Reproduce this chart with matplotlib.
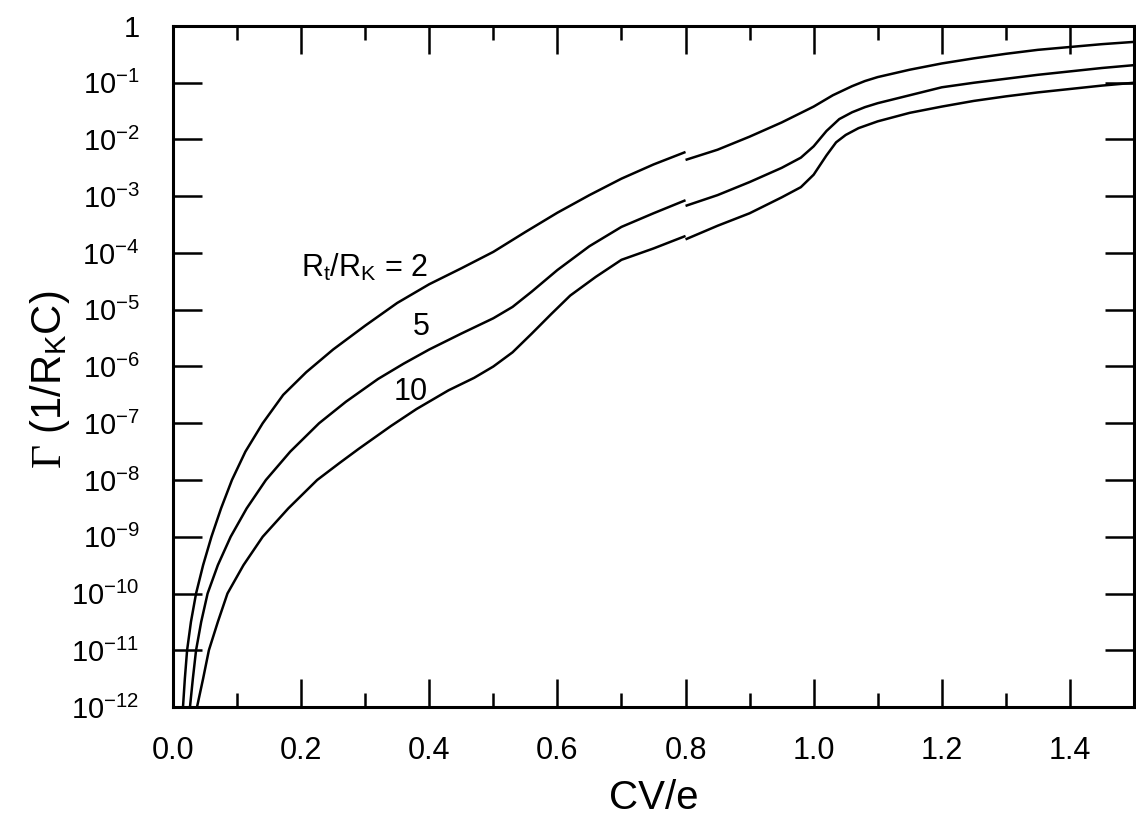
import numpy as np
import matplotlib
matplotlib.use("Agg")
import matplotlib.pyplot as plt
from matplotlib.ticker import FixedLocator, MultipleLocator, FixedFormatter

plt.rcParams['font.family'] = ['Liberation Sans', 'DejaVu Sans']
plt.rcParams['mathtext.fontset'] = 'custom'
plt.rcParams['mathtext.rm'] = 'Liberation Serif'
plt.rcParams['mathtext.it'] = 'Liberation Serif:italic'

# values: CV/e and log10(Gamma) for each R_t/R_K
# each curve has a small break at CV/e = 0.8, so two pieces per curve
x2_a = [0.0156, 0.0185, 0.022, 0.028, 0.036, 0.047, 0.060, 0.075, 0.092, 0.113, 0.140,
        0.172, 0.208, 0.25, 0.30, 0.35, 0.40, 0.45, 0.50, 0.55, 0.60, 0.65, 0.70,
        0.75, 0.80]
lg2_a = [-12, -11.5, -11, -10.5, -10, -9.5, -9, -8.5, -8, -7.5, -7,
         -6.5, -6.1, -5.7, -5.28, -4.88, -4.55, -4.27, -3.98, -3.63, -3.29, -2.98, -2.69,
         -2.44, -2.22]
x2_b = [0.80, 0.85, 0.90, 0.95, 1.00, 1.03, 1.06, 1.08, 1.10, 1.15, 1.20, 1.25, 1.30,
        1.35, 1.40, 1.45, 1.50]
lg2_b = [-2.36, -2.18, -1.95, -1.70, -1.42, -1.22, -1.06, -0.97, -0.90, -0.77, -0.66,
         -0.57, -0.49, -0.42, -0.37, -0.32, -0.28]

x5_a = [0.0265, 0.031, 0.036, 0.044, 0.054, 0.070, 0.090, 0.115, 0.145, 0.183, 0.228,
        0.27, 0.32, 0.36, 0.40, 0.45, 0.50, 0.53, 0.56, 0.60, 0.65, 0.70, 0.75, 0.80]
lg5_a = [-12, -11.5, -11, -10.5, -10, -9.5, -9, -8.5, -8, -7.5, -7,
         -6.62, -6.22, -5.95, -5.70, -5.42, -5.15, -4.95, -4.68, -4.30, -3.88, -3.54,
         -3.30, -3.07]
x5_b = [0.80, 0.85, 0.90, 0.95, 0.98, 1.00, 1.02, 1.04, 1.06, 1.08, 1.10, 1.15, 1.20,
        1.25, 1.30, 1.35, 1.40, 1.45, 1.50]
lg5_b = [-3.17, -2.98, -2.75, -2.50, -2.32, -2.12, -1.85, -1.64, -1.52, -1.43, -1.36,
         -1.22, -1.08, -1.00, -0.93, -0.86, -0.80, -0.74, -0.69]

x10_a = [0.0375, 0.047, 0.056, 0.070, 0.085, 0.110, 0.140, 0.180, 0.225, 0.26, 0.29,
         0.34, 0.38, 0.43, 0.47, 0.50, 0.53, 0.56, 0.59, 0.62, 0.66, 0.70, 0.75, 0.80]
lg10_a = [-12, -11.5, -11, -10.5, -10, -9.5, -9, -8.5, -8, -7.7, -7.45, -7.05,
          -6.75, -6.42, -6.20, -6.00, -5.75, -5.42, -5.08, -4.75, -4.42, -4.12,
          -3.92, -3.70]
x10_b = [0.80, 0.85, 0.90, 0.95, 0.98, 1.00, 1.01, 1.02, 1.035, 1.05, 1.07, 1.10, 1.15,
         1.20, 1.25, 1.30, 1.35, 1.40, 1.45, 1.50]
lg10_b = [-3.76, -3.52, -3.30, -3.02, -2.84, -2.62, -2.45, -2.28, -2.05, -1.92, -1.80,
          -1.68, -1.53, -1.42, -1.32, -1.24, -1.17, -1.11, -1.05, -1.00]

ytick_vals = [10.0 ** -k for k in range(0, 13)]
ytick_labels = ['1'] + [r'$\mathregular{10^{-%d}}$' % k for k in range(1, 13)]

fig = plt.figure(figsize=(11.36, 8.34), dpi=100)
ax = fig.add_axes([173 / 1136, 1 - 707 / 834, (1134 - 173) / 1136, (707 - 26) / 834])

pieces = [(x2_a, lg2_a), (x2_b, lg2_b), (x5_a, lg5_a), (x5_b, lg5_b),
          (x10_a, lg10_a), (x10_b, lg10_b)]
for xs, lg in pieces:
    ax.plot(xs, 10.0 ** np.array(lg), color='black', lw=1.8,
            solid_capstyle='butt', solid_joinstyle='round')

ax.set_yscale('log')
ax.set_xlim(0, 1.5)
ax.set_ylim(1e-12, 1)

ax.xaxis.set_major_locator(MultipleLocator(0.2))
ax.xaxis.set_minor_locator(MultipleLocator(0.1))
ax.xaxis.set_major_formatter(plt.FuncFormatter(lambda v, p: '%.1f' % v))
ax.yaxis.set_major_locator(FixedLocator(ytick_vals))
ax.yaxis.set_major_formatter(FixedFormatter(ytick_labels))
ax.yaxis.set_minor_locator(FixedLocator([]))

ax.tick_params(axis='both', which='both', direction='in', top=True, right=True,
               width=1.8, colors='black')
ax.tick_params(axis='x', which='major', length=20, pad=21, labelsize=22)
ax.tick_params(axis='x', which='minor', length=10)
ax.tick_params(axis='y', which='major', length=21, pad=24, labelsize=21)
for s in ax.spines.values():
    s.set_linewidth(2.2)

ax.set_xlabel('CV/e', fontsize=29)
ax.xaxis.set_label_coords(0.5, -0.105)
ax.set_ylabel(r'$\Gamma$ (1/R$_\mathregular{K}$C)', fontsize=30)
ax.yaxis.set_label_coords(-0.105, 0.48)

ax.text(0.398, 10 ** -4.42, r'R$_\mathregular{t}$/R$_\mathregular{K}$ = 2',
        fontsize=22, ha='right', va='baseline')
ax.text(0.387, 10 ** -5.44, '5', fontsize=22, ha='center', va='baseline')
ax.text(0.371, 10 ** -6.59, '10', fontsize=22, ha='center', va='baseline')

fig.savefig('out.png', dpi=100)
